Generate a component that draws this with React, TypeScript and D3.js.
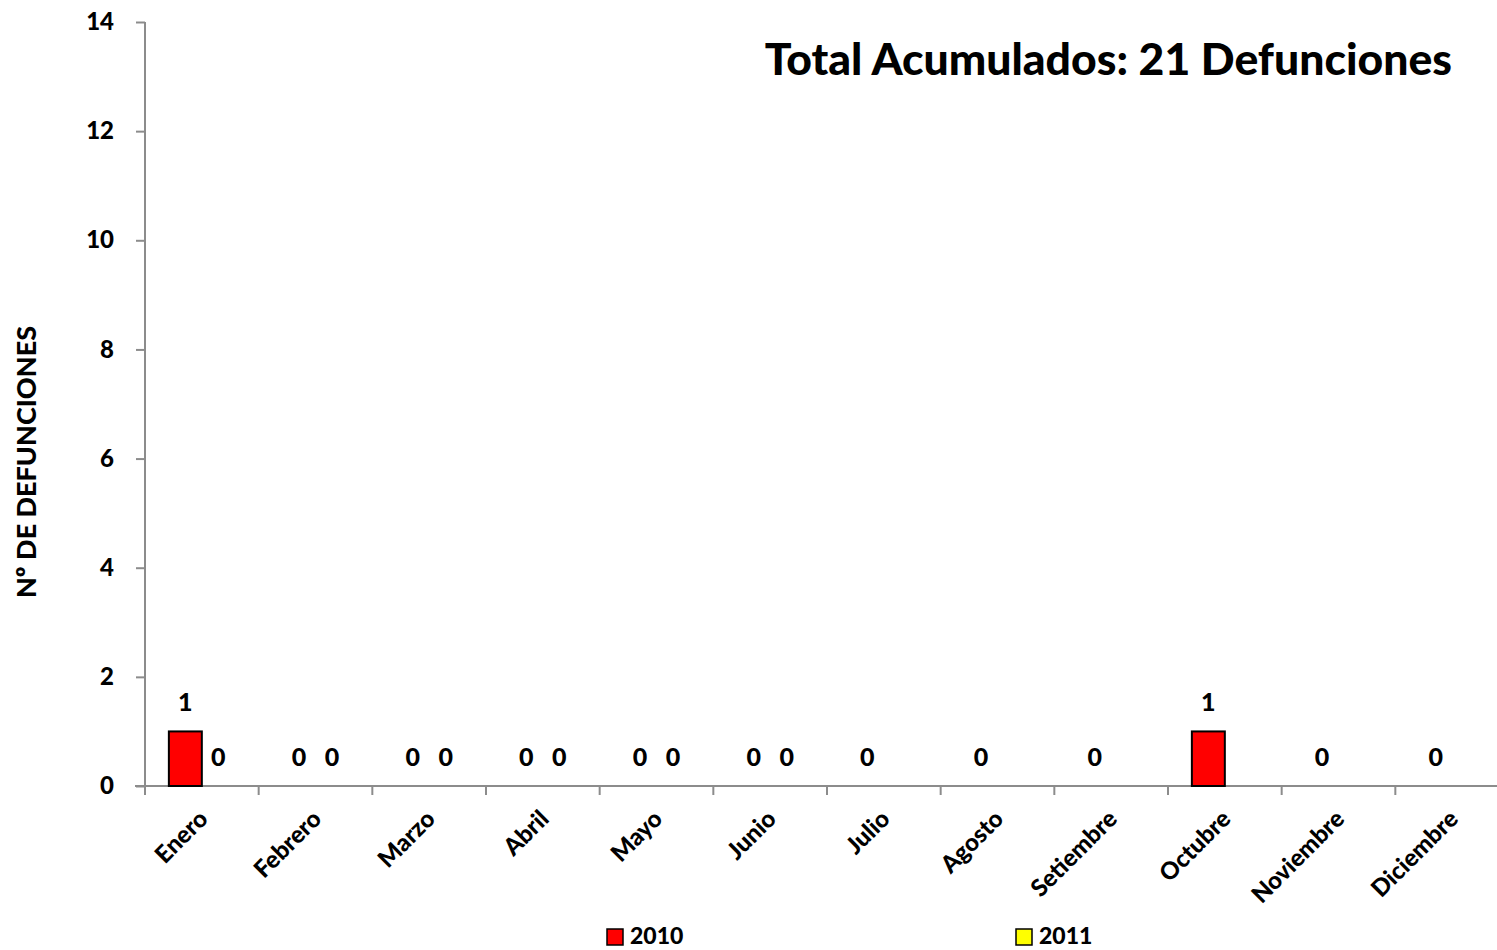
import React, {useEffect, useRef} from 'react'
import * as d3 from 'd3'

// chart data
const months = [
  'Enero', 'Febrero', 'Marzo', 'Abril', 'Mayo', 'Junio',
  'Julio', 'Agosto', 'Setiembre', 'Octubre', 'Noviembre', 'Diciembre'
]
const series = ['2010', '2011']
const values2010 = [1, 0, 0, 0, 0, 0, 0, 0, 0, 1, 0, 0]
const values2011 = [0, 0, 0, 0, 0, 0, null, null, null, null, null, null]
const yTicks = [0, 2, 4, 6, 8, 10, 12, 14]
const colors = ['#ff0000', '#ffff00']
const title = 'Total Acumulados: 21 Defunciones'
const yLabel = 'Nº DE DEFUNCIONES'

const FONT = 'Lato, "Open Sans", sans-serif'

export default function App() {
  const ref = useRef<SVGSVGElement>(null)

  useEffect(() => {
    const svg = d3.select(ref.current)
    svg.selectAll('*').remove()

    const left = 145
    const right = 1509
    const top = 22
    const bottom = 786

    const x0 = d3.scaleBand().domain(months).range([left, right]).padding(0)
    const bw = x0.bandwidth()
    const x1 = d3.scaleBand().domain(series).range([bw * 0.21, bw * 0.79]).padding(0)
    const y = d3.scaleLinear().domain([0, 14]).range([bottom, top])

    const axisColor = '#8c8c8c'

    // y axis
    const yAxis = svg.append('g').attr('transform', `translate(${left},0)`)
      .call(d3.axisLeft(y).tickValues(yTicks).tickSize(9).tickPadding(22))
    yAxis.select('.domain').attr('stroke', axisColor).attr('stroke-width', 2)
      .attr('d', `M0,${top}V${bottom + 9}`)
    yAxis.selectAll('.tick line').attr('stroke', axisColor).attr('stroke-width', 2)
    yAxis.selectAll('.tick text')
      .attr('font-family', FONT).attr('font-weight', 900)
      .attr('font-size', 24).attr('fill', '#000')

    // x axis
    const xAxis = svg.append('g').attr('transform', `translate(0,${bottom})`)
    xAxis.append('line')
      .attr('x1', left - 10).attr('x2', 1497)
      .attr('stroke', axisColor).attr('stroke-width', 2)
    const boundaries = months.map(m => x0(m) as number)
    xAxis.selectAll('line.tk').data(boundaries).enter().append('line')
      .attr('class', 'tk')
      .attr('x1', d => d).attr('x2', d => d)
      .attr('y1', 0).attr('y2', 9)
      .attr('stroke', axisColor).attr('stroke-width', 2)
    xAxis.selectAll('text').data(months).enter().append('text')
      .attr('transform', d => `translate(${(x0(d) as number) + bw / 2 + 3},${30}) rotate(-45)`)
      .attr('text-anchor', 'end')
      .attr('dominant-baseline', 'middle')
      .attr('font-family', FONT).attr('font-weight', 900)
      .attr('font-size', 24).attr('fill', '#000')
      .text(d => d)

    // bars + labels
    const allValues = [values2010, values2011]
    allValues.forEach((vals, si) => {
      const pts = months.map((m, i) => ({m, v: vals[i]})).filter(d => d.v !== null)
      const g = svg.append('g')
      g.selectAll('rect').data(pts.filter(d => (d.v as number) > 0)).enter().append('rect')
        .attr('x', d => (x0(d.m) as number) + (x1(series[si]) as number))
        .attr('y', d => y(d.v as number))
        .attr('width', x1.bandwidth())
        .attr('height', d => bottom - y(d.v as number))
        .attr('fill', colors[si])
        .attr('stroke', '#000').attr('stroke-width', 2)
      g.selectAll('text').data(pts).enter().append('text')
        .attr('x', d => (x0(d.m) as number) + (x1(series[si]) as number) + x1.bandwidth() / 2)
        .attr('y', d => y(d.v as number) - 20)
        .attr('text-anchor', 'middle')
        .attr('font-family', FONT).attr('font-weight', 900)
        .attr('font-size', 25).attr('fill', '#000')
        .text(d => String(d.v))
    })

    // title
    svg.append('text')
      .attr('x', 1452).attr('y', 75)
      .attr('text-anchor', 'end')
      .attr('font-family', FONT).attr('font-weight', 900)
      .attr('font-size', 44.5).attr('fill', '#000')
      .text(title)

    // y label
    svg.append('text')
      .attr('transform', `translate(36,${462}) rotate(-90)`)
      .attr('text-anchor', 'middle')
      .attr('font-family', FONT).attr('font-weight', 900)
      .attr('font-size', 27).attr('fill', '#000')
      .text(yLabel)

    // legend
    const legendX = [607, 1016]
    series.forEach((s, i) => {
      svg.append('rect')
        .attr('x', legendX[i]).attr('y', 929)
        .attr('width', 16).attr('height', 16)
        .attr('fill', colors[i]).attr('stroke', '#000').attr('stroke-width', 1.5)
      svg.append('text')
        .attr('x', legendX[i] + 23).attr('y', 944)
        .attr('font-family', FONT).attr('font-weight', 900)
        .attr('font-size', 23).attr('fill', '#000')
        .text(s)
    })
  }, [])

  return (
    <svg
      ref={ref}
      width={1497}
      height={950}
      style={{position: 'absolute', left: 0, top: 0, background: '#fff'}}
    />
  )
}
